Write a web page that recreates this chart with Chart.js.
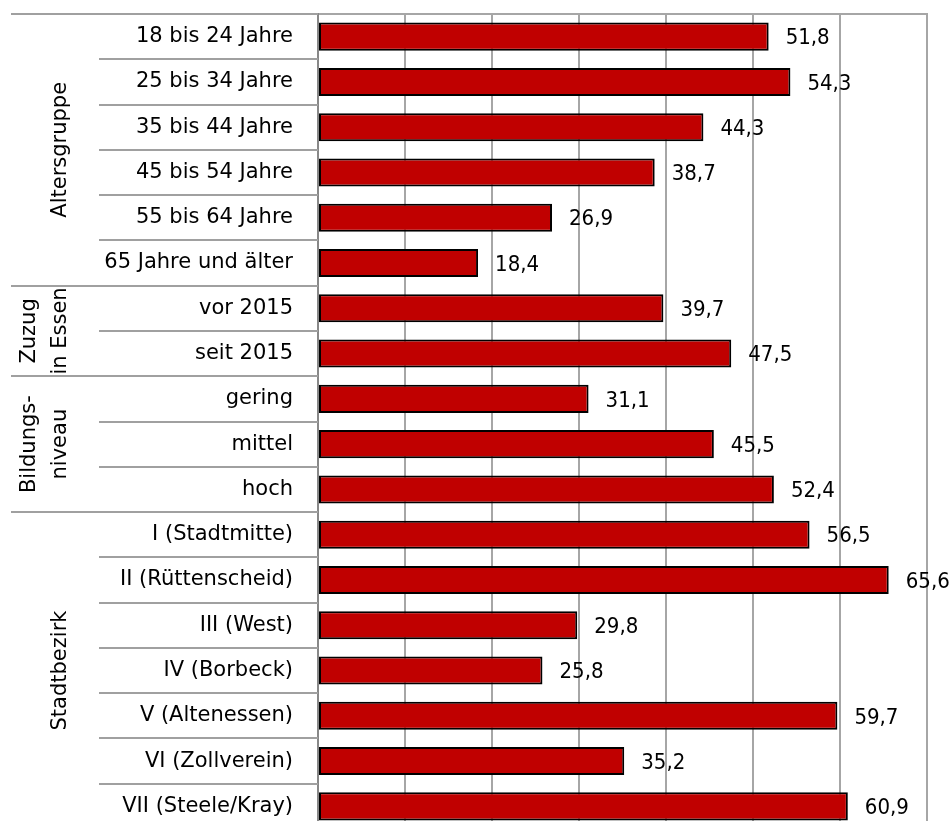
<!DOCTYPE html>
<html lang="de">
<head>
<meta charset="utf-8">
<title>Anteile nach Gruppen</title>
<script src="https://cdn.jsdelivr.net/npm/chart.js@4.4.1/dist/chart.umd.min.js"></script>
<style>
    html, body { margin: 0; padding: 0; background: #fff; overflow: hidden; }
    #wrap { position: relative; width: 951px; height: 840px; }
</style>
</head>
<body>
<div id="wrap"><canvas id="myChart"></canvas></div>
<script>
const categories = [
    '18 bis 24 Jahre', '25 bis 34 Jahre', '35 bis 44 Jahre', '45 bis 54 Jahre', '55 bis 64 Jahre', '65 Jahre und älter',
    'vor 2015', 'seit 2015',
    'gering', 'mittel', 'hoch',
    'I (Stadtmitte)', 'II (Rüttenscheid)', 'III (West)', 'IV (Borbeck)', 'V (Altenessen)', 'VI (Zollverein)', 'VII (Steele/Kray)'
];
const values = [51.8, 54.3, 44.3, 38.7, 26.9, 18.4, 39.7, 47.5, 31.1, 45.5, 52.4, 56.5, 65.6, 29.8, 25.8, 59.7, 35.2, 60.9];
const groupNames = [['Altersgruppe'], ['Zuzug', 'in Essen'], ['Bildungs-', 'niveau'], ['Stadtbezirk']];
const groupSizes = [6, 2, 3, 7];
const xMin = 0;
const xMax = 70;
const xStep = 10;

const labelFont = '21px "DejaVu Sans"';
const valueFont = '22px "DejaVu Sans Condensed"';

function fmt(v) {
    return v.toFixed(1).replace('.', ',');
}

// separators, group names and value labels on top of the chart
const rowDecor = {
    id: 'rowDecor',
    afterDraw(chart) {
        const ctx = chart.ctx;
        const y = chart.scales.y;
        const area = chart.chartArea;
        const half = (y.getPixelForValue(1) - y.getPixelForValue(0)) / 2;

        const starts = [];
        let n = 0;
        groupSizes.forEach(function (s) { starts.push(n); n += s; });

        ctx.save();
        ctx.strokeStyle = '#a0a0a0';
        ctx.lineWidth = 2;
        for (let i = 0; i < categories.length; i++) {
            const py = Math.round(y.getPixelForValue(i) - half);
            const x0 = starts.includes(i) ? 11 : 99;
            ctx.beginPath();
            ctx.moveTo(x0, py);
            ctx.lineTo(area.left, py);
            ctx.stroke();
        }

        ctx.fillStyle = '#000';
        ctx.font = labelFont;
        ctx.textAlign = 'center';
        ctx.textBaseline = 'alphabetic';
        groupNames.forEach(function (lines, g) {
            const first = starts[g];
            const last = first + groupSizes[g] - 1;
            const cy = (y.getPixelForValue(first) + y.getPixelForValue(last)) / 2;
            const baseX = lines.length === 1 ? [66] : [35, 66];
            lines.forEach(function (t, k) {
                ctx.save();
                ctx.translate(baseX[k], cy);
                ctx.rotate(-Math.PI / 2);
                ctx.fillText(t, 0, 0);
                ctx.restore();
            });
        });

        ctx.font = valueFont;
        ctx.textAlign = 'left';
        ctx.textBaseline = 'middle';
        chart.getDatasetMeta(0).data.forEach(function (bar, i) {
            ctx.fillText(fmt(values[i]), bar.x + 17, bar.y + 2);
        });
        ctx.restore();
    }
};

new Chart(document.getElementById('myChart'), {
    type: 'bar',
    data: {
        labels: categories,
        datasets: [{
            data: values,
            backgroundColor: '#c00000',
            borderColor: '#000',
            borderWidth: 2,
            borderSkipped: false,
            barPercentage: 0.62,
            categoryPercentage: 1
        }]
    },
    options: {
        indexAxis: 'y',
        responsive: true,
        maintainAspectRatio: false,
        animation: false,
        layout: { padding: { top: 14, right: 24, bottom: 11, left: 0 } },
        plugins: {
            legend: { display: false },
            tooltip: { enabled: false }
        },
        scales: {
            x: {
                position: 'top',
                min: xMin,
                max: xMax,
                ticks: { display: false, stepSize: xStep },
                grid: { color: '#a6a6a6', lineWidth: 2, drawTicks: false },
                border: { display: true, color: '#a6a6a6', width: 2 },
                afterFit: function (s) {
                    s.height = 0;
                    s.paddingLeft = 0;
                    s.paddingRight = 0;
                }
            },
            y: {
                ticks: {
                    color: '#000',
                    font: { family: 'DejaVu Sans', size: 21 },
                    padding: 25,
                    autoSkip: false
                },
                grid: { display: false, drawTicks: false },
                border: { display: true, color: '#888', width: 2 },
                afterFit: function (s) {
                    s.width = 318;
                    s.paddingTop = 0;
                    s.paddingBottom = 0;
                }
            }
        }
    },
    plugins: [rowDecor]
});
</script>
</body>
</html>
